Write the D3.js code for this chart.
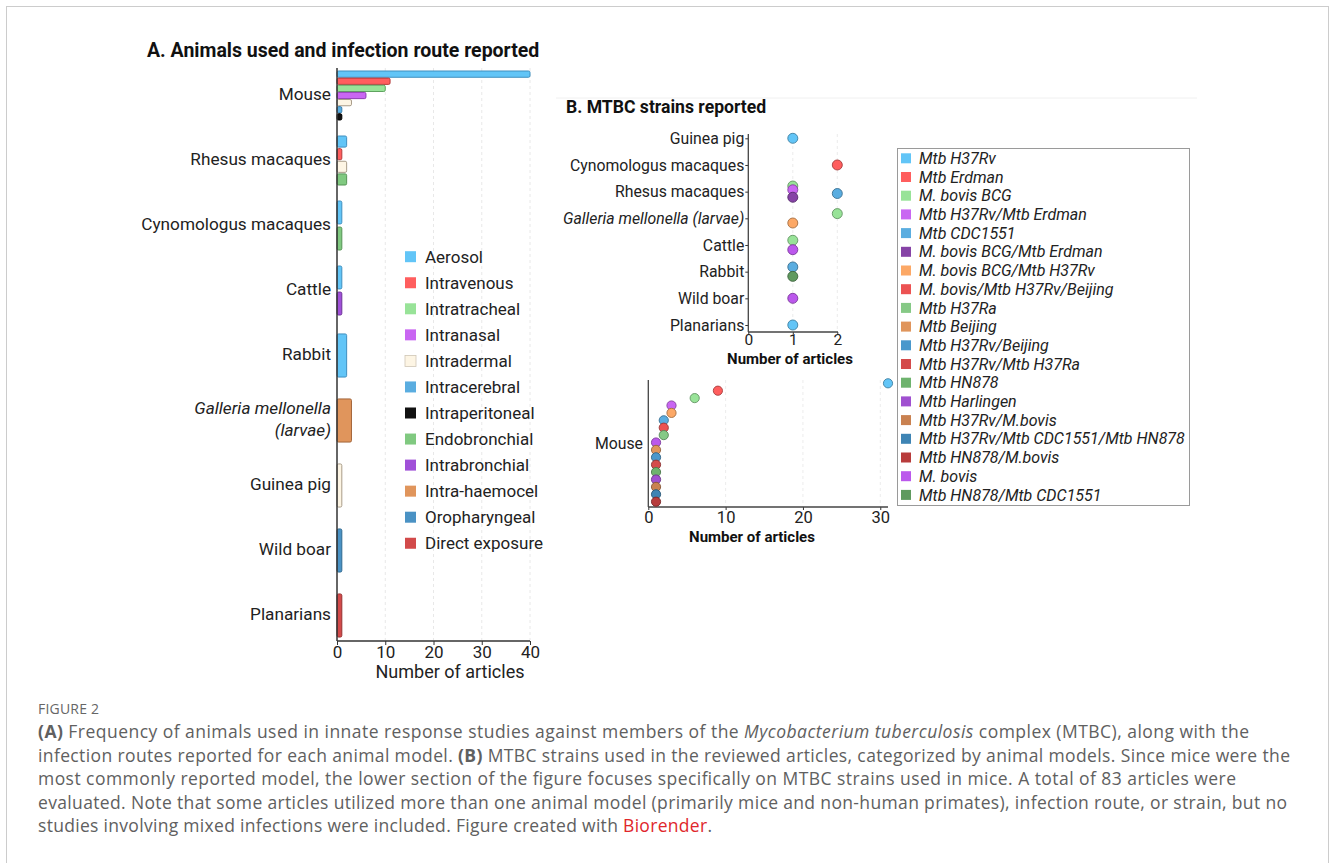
<!DOCTYPE html>
<html>
<head>
<meta charset="utf-8">
<script src="https://cdn.jsdelivr.net/npm/d3@7"></script>
<style>
  body { margin: 0; background: #fff; }
  svg { font-family: Roboto, "Noto Sans", sans-serif; }
  .axis .domain { display: none; }
  .axis line { stroke: #333; }
</style>
</head>
<body>
<svg id="fig" width="1330" height="863"></svg>
<script>
// ---- data: panel A (animals / infection routes) ----
var animalsA = ["Mouse", "Rhesus macaques", "Cynomologus macaques", "Cattle", "Rabbit",
  "Galleria mellonella (larvae)", "Guinea pig", "Wild boar", "Planarians"];

var routes = ["Aerosol", "Intravenous", "Intratracheal", "Intranasal", "Intradermal", "Intracerebral",
  "Intraperitoneal", "Endobronchial", "Intrabronchial", "Intra-haemocel", "Oropharyngeal", "Direct exposure"];

var routeColors = ["#62c5f7", "#ff5e5e", "#98e398", "#c966f2", "#fdf5e4", "#5aade0",
  "#111111", "#80c980", "#a050d8", "#e0955c", "#4a92c4", "#d24a4a"];

var routeStrokes = ["#3f8fbf", "#b33b3b", "#5fa35f", "#8e3fb2", "#a89c88", "#3a7eaa",
  "#000000", "#559455", "#6e3398", "#a3653a", "#2f6990", "#963030"];

var mouseRoutes = [["Aerosol", 40], ["Intravenous", 11], ["Intratracheal", 10], ["Intranasal", 6],
  ["Intradermal", 3], ["Intracerebral", 1], ["Intraperitoneal", 1]];
var rhesusRoutes = [["Aerosol", 2], ["Intravenous", 1], ["Intradermal", 2], ["Endobronchial", 2]];
var cynoRoutes = [["Aerosol", 1], ["Endobronchial", 1]];
var cattleRoutes = [["Aerosol", 1], ["Intrabronchial", 1]];
var rabbitRoutes = [["Aerosol", 2]];
var galleriaRoutes = [["Intra-haemocel", 3]];
var guineaRoutes = [["Intradermal", 1]];
var boarRoutes = [["Oropharyngeal", 1]];
var planarianRoutes = [["Direct exposure", 1]];

var xTicksA = [0, 10, 20, 30, 40];

// ---- data: panel B (MTBC strains) ----
var strains = ["Mtb H37Rv", "Mtb Erdman", "M. bovis BCG", "Mtb H37Rv/Mtb Erdman", "Mtb CDC1551",
  "M. bovis BCG/Mtb Erdman", "M. bovis BCG/Mtb H37Rv", "M. bovis/Mtb H37Rv/Beijing", "Mtb H37Ra",
  "Mtb Beijing", "Mtb H37Rv/Beijing", "Mtb H37Rv/Mtb H37Ra", "Mtb HN878", "Mtb Harlingen",
  "Mtb H37Rv/M.bovis", "Mtb H37Rv/Mtb CDC1551/Mtb HN878", "Mtb HN878/M.bovis", "M. bovis",
  "Mtb HN878/Mtb CDC1551"];

var strainColors = ["#62c5f7", "#ff5e5e", "#98e398", "#c966f2", "#5aade0",
  "#8643a6", "#fca866", "#ec5252", "#86c986", "#e0955c", "#4a98cc", "#d44b4b",
  "#6eb36e", "#a050d0", "#c98150", "#3e84b4", "#b83c3c", "#bb58ec", "#5f9a5f"];

var strainAnimals = ["Guinea pig", "Cynomologus macaques", "Rhesus macaques", "Galleria mellonella (larvae)",
  "Cattle", "Rabbit", "Wild boar", "Planarians"];

var guineaStrains = [["Mtb H37Rv", 1]];
var cynoStrains = [["Mtb Erdman", 2]];
var rhesusStrains = [["M. bovis BCG", 1], ["Mtb H37Rv/Mtb Erdman", 1], ["Mtb CDC1551", 2], ["M. bovis BCG/Mtb Erdman", 1]];
var galleriaStrains = [["M. bovis BCG", 2], ["M. bovis BCG/Mtb H37Rv", 1]];
var cattleStrains = [["M. bovis BCG", 1], ["M. bovis", 1]];
var rabbitStrains = [["Mtb CDC1551", 1], ["Mtb HN878/Mtb CDC1551", 1]];
var boarStrains = [["M. bovis", 1]];
var planarianStrains = [["Mtb H37Rv", 1]];

var mouseStrains = [["Mtb H37Rv", 31], ["Mtb Erdman", 9], ["M. bovis BCG", 6], ["Mtb H37Rv/Mtb Erdman", 3],
  ["M. bovis BCG/Mtb H37Rv", 3], ["Mtb CDC1551", 2], ["M. bovis/Mtb H37Rv/Beijing", 2], ["Mtb H37Ra", 2],
  ["M. bovis", 1], ["Mtb Beijing", 1], ["Mtb H37Rv/Beijing", 1], ["Mtb H37Rv/Mtb H37Ra", 1], ["Mtb HN878", 1],
  ["Mtb Harlingen", 1], ["Mtb H37Rv/M.bovis", 1], ["Mtb H37Rv/Mtb CDC1551/Mtb HN878", 1], ["Mtb HN878/M.bovis", 1]];

var xTicksB1 = [0, 1, 2];
var xTicksB2 = [0, 10, 20, 30];

var captionLines = [
  [["b", "(A)"], ["n", " Frequency of animals used in innate response studies against members of the "], ["i", "Mycobacterium tuberculosis"], ["n", " complex (MTBC), along with the"]],
  [["n", "infection routes reported for each animal model. "], ["b", "(B)"], ["n", " MTBC strains used in the reviewed articles, categorized by animal models. Since mice were the"]],
  [["n", "most commonly reported model, the lower section of the figure focuses specifically on MTBC strains used in mice. A total of 83 articles were"]],
  [["n", "evaluated. Note that some articles utilized more than one animal model (primarily mice and non-human primates), infection route, or strain, but no"]],
  [["n", "studies involving mixed infections were included. Figure created with "], ["r", "Biorender"], ["n", "."]]
];
var captionWidths = [1211, 1252, 1198, 1249, 674];

var routesByAnimal = [mouseRoutes, rhesusRoutes, cynoRoutes, cattleRoutes, rabbitRoutes,
  galleriaRoutes, guineaRoutes, boarRoutes, planarianRoutes];
var strainsByAnimal = [guineaStrains, cynoStrains, rhesusStrains, galleriaStrains,
  cattleStrains, rabbitStrains, boarStrains, planarianStrains];

var svg = d3.select("#fig");

// figure frame
svg.append("rect")
  .attr("x", 6.5).attr("y", 6.5).attr("width", 1322).attr("height", 920)
  .attr("fill", "#fff").attr("stroke", "#cccccc");

var routeColor = d3.scaleOrdinal().domain(routes).range(routeColors);
var routeStroke = d3.scaleOrdinal().domain(routes).range(routeStrokes);
var strainColor = d3.scaleOrdinal().domain(strains).range(strainColors);

// ================= PANEL A =================
var xA = d3.scaleLinear().domain([0, 40]).range([337, 530]);
var yA = d3.scaleBand().domain(animalsA).range([63, 648]);

svg.append("text")
  .attr("x", 147).attr("y", 57)
  .attr("font-size", 19.5).attr("font-weight", "bold").attr("fill", "#111")
  .text("A. Animals used and infection route reported");

// grid
svg.append("g").selectAll("line")
  .data(xTicksA.slice(1))
  .enter().append("line")
  .attr("x1", function (d) { return xA(d); })
  .attr("x2", function (d) { return xA(d); })
  .attr("y1", 68).attr("y2", 640)
  .attr("stroke", "#e8e8e8").attr("stroke-dasharray", "3,3");

// bars
animalsA.forEach(function (a, i) {
  var rows = routesByAnimal[i];
  var c = yA(a) + yA.bandwidth() / 2;
  var inner = d3.scaleBand()
    .domain(rows.map(function (r) { return r[0]; }))
    .range([c - 24.5, c + 24.5])
    .paddingInner(0.12);
  svg.append("g").selectAll("rect")
    .data(rows)
    .enter().append("rect")
    .attr("x", xA(0))
    .attr("y", function (d) { return inner(d[0]); })
    .attr("width", function (d) { return xA(d[1]) - xA(0); })
    .attr("height", inner.bandwidth())
    .attr("rx", 1.5)
    .attr("fill", function (d) { return routeColor(d[0]); })
    .attr("stroke", function (d) { return routeStroke(d[0]); })
    .attr("stroke-width", 1);
});

// axes A
var xAxisA = svg.append("g")
  .attr("class", "axis")
  .attr("transform", "translate(0,641)")
  .call(d3.axisBottom(xA).tickValues(xTicksA).tickSize(4).tickPadding(1));
xAxisA.selectAll("text").attr("font-size", 17).attr("fill", "#222").attr("font-family", "Roboto");

svg.append("line").attr("x1", 337).attr("x2", 530).attr("y1", 641).attr("y2", 641)
  .attr("stroke", "#333").attr("stroke-width", 1.5);
svg.append("line").attr("x1", 337).attr("x2", 337).attr("y1", 68).attr("y2", 641)
  .attr("stroke", "#333").attr("stroke-width", 1.5);

var yLabA = svg.append("g").selectAll("text")
  .data(animalsA)
  .enter().append("text")
  .attr("text-anchor", "end")
  .attr("font-size", 17.2).attr("fill", "#222")
  .attr("x", 331)
  .attr("y", function (d) { return yA(d) + yA.bandwidth() / 2 - 1.5; })
  .attr("dy", "0.35em");
yLabA.each(function (d) {
  var t = d3.select(this);
  if (d.indexOf("Galleria") === 0) {
    var y = +t.attr("y");
    t.attr("dy", null).attr("font-style", "italic");
    t.append("tspan").attr("x", 331).attr("y", y - 5).text("Galleria mellonella");
    t.append("tspan").attr("x", 331).attr("y", y + 17).text("(larvae)");
  } else {
    t.text(d);
  }
});

svg.append("text")
  .attr("x", 450).attr("y", 678).attr("text-anchor", "middle")
  .attr("font-size", 18).attr("fill", "#222")
  .text("Number of articles");

// legend A
var legA = svg.append("g").selectAll("g")
  .data(routes)
  .enter().append("g")
  .attr("transform", function (d, i) { return "translate(405," + (256.7 + i * 26.05) + ")"; });
legA.append("rect")
  .attr("x", 0).attr("y", -5.5).attr("width", 11).attr("height", 11)
  .attr("fill", function (d) { return routeColor(d); })
  .attr("stroke", function (d) { return d === "Intradermal" ? "#cfc6b6" : "none"; })
  .attr("stroke-width", 0.8);
legA.append("text")
  .attr("x", 20).attr("dy", "0.35em")
  .attr("font-size", 17).attr("fill", "#222")
  .text(function (d) { return d; });

// ================= PANEL B =================
svg.append("line").attr("x1", 556).attr("x2", 1197).attr("y1", 98).attr("y2", 98)
  .attr("stroke", "#f0f0f0");

svg.append("text")
  .attr("x", 566).attr("y", 113)
  .attr("font-size", 17.6).attr("font-weight", "bold").attr("fill", "#111")
  .text("B. MTBC strains reported");

// --- upper dot plot ---
var xB1 = d3.scaleLinear().domain([0, 2]).range([748.3, 837.3]);
var yB1 = d3.scalePoint().domain(strainAnimals).range([138.3, 325]);

svg.append("g").selectAll("line")
  .data(xTicksB1.slice(1))
  .enter().append("line")
  .attr("x1", function (d) { return xB1(d); })
  .attr("x2", function (d) { return xB1(d); })
  .attr("y1", 134).attr("y2", 332)
  .attr("stroke", "#ececec").attr("stroke-dasharray", "3,3");

var yAxisB1 = svg.append("g")
  .attr("class", "axis")
  .attr("transform", "translate(748.3,0)")
  .call(d3.axisLeft(yB1).tickSize(3).tickPadding(1));
yAxisB1.selectAll("text").attr("font-size", 15.8).attr("fill", "#222").attr("font-family", "Roboto")
  .attr("font-style", function (d) { return d.indexOf("Galleria") === 0 ? "italic" : null; });

var xAxisB1 = svg.append("g")
  .attr("class", "axis")
  .attr("transform", "translate(0,332)")
  .call(d3.axisBottom(xB1).tickValues(xTicksB1).tickFormat(d3.format("d")).tickSize(2).tickPadding(0));
xAxisB1.selectAll("text").attr("font-size", 15.5).attr("fill", "#222").attr("font-family", "Roboto");

svg.append("line").attr("x1", 748.3).attr("x2", 748.3).attr("y1", 134).attr("y2", 332)
  .attr("stroke", "#444").attr("stroke-width", 1.3);
svg.append("line").attr("x1", 748.3).attr("x2", 838).attr("y1", 332).attr("y2", 332)
  .attr("stroke", "#444").attr("stroke-width", 1.3);

strainAnimals.forEach(function (a, i) {
  var rows = strainsByAnimal[i];
  var dodge = d3.scalePoint()
    .domain(rows.map(function (r) { return r[0]; }))
    .range(rows.length > 2 ? [-5.6, 5.6] : [-4.7, 4.7]);
  svg.append("g").selectAll("circle")
    .data(rows)
    .enter().append("circle")
    .attr("cx", function (d) { return xB1(d[1]); })
    .attr("cy", function (d) { return yB1(a) + (rows.length > 1 ? dodge(d[0]) : 0); })
    .attr("r", 5)
    .attr("fill", function (d) { return strainColor(d[0]); })
    .attr("stroke", function (d) { return d3.color(strainColor(d[0])).darker(1.2); })
    .attr("stroke-width", 0.9);
});

svg.append("text")
  .attr("x", 790).attr("y", 363.5).attr("text-anchor", "middle")
  .attr("font-size", 15).attr("font-weight", "bold").attr("fill", "#111")
  .text("Number of articles");

// --- mouse dot plot ---
var xB2 = d3.scaleLinear().domain([0, 31]).range([648.3, 888]);
var yB2 = d3.scalePoint().domain(mouseStrains.map(function (r) { return r[0]; })).range([383.3, 501.7]);

svg.append("g").selectAll("line")
  .data(xTicksB2.slice(1))
  .enter().append("line")
  .attr("x1", function (d) { return xB2(d); })
  .attr("x2", function (d) { return xB2(d); })
  .attr("y1", 380).attr("y2", 507)
  .attr("stroke", "#ececec").attr("stroke-dasharray", "3,3");

var xAxisB2 = svg.append("g")
  .attr("class", "axis")
  .attr("transform", "translate(0,507)")
  .call(d3.axisBottom(xB2).tickValues(xTicksB2).tickSize(3).tickPadding(1));
xAxisB2.selectAll("text").attr("font-size", 16.5).attr("fill", "#222").attr("font-family", "Roboto");

svg.append("line").attr("x1", 648.3).attr("x2", 648.3).attr("y1", 380).attr("y2", 507)
  .attr("stroke", "#444").attr("stroke-width", 1.3);
svg.append("line").attr("x1", 648.3).attr("x2", 888).attr("y1", 507).attr("y2", 507)
  .attr("stroke", "#444").attr("stroke-width", 1.3);

svg.append("text")
  .attr("x", 643).attr("y", 443.3).attr("dy", "0.35em").attr("text-anchor", "end")
  .attr("font-size", 15.8).attr("fill", "#222")
  .text("Mouse");

svg.append("g").selectAll("circle")
  .data(mouseStrains)
  .enter().append("circle")
  .attr("cx", function (d) { return xB2(d[1]); })
  .attr("cy", function (d) { return yB2(d[0]); })
  .attr("r", 4.6)
  .attr("fill", function (d) { return strainColor(d[0]); })
  .attr("stroke", function (d) { return d3.color(strainColor(d[0])).darker(1.2); })
  .attr("stroke-width", 0.9);

svg.append("text")
  .attr("x", 752).attr("y", 542).attr("text-anchor", "middle")
  .attr("font-size", 15).attr("font-weight", "bold").attr("fill", "#111")
  .text("Number of articles");

// legend B
svg.append("rect")
  .attr("x", 897.5).attr("y", 148.5).attr("width", 292).attr("height", 357)
  .attr("fill", "#fff").attr("stroke", "#9a9a9a");
var legB = svg.append("g").selectAll("g")
  .data(strains)
  .enter().append("g")
  .attr("transform", function (d, i) { return "translate(901," + (158.3 + i * 18.7) + ")"; });
legB.append("rect")
  .attr("x", 0).attr("y", -5).attr("width", 10).attr("height", 10)
  .attr("fill", function (d) { return strainColor(d); });
legB.append("text")
  .attr("x", 18).attr("dy", "0.35em")
  .attr("font-size", 16).attr("font-style", "italic").attr("fill", "#222")
  .text(function (d) { return d; });

// ================= CAPTION =================
svg.append("text")
  .attr("x", 38).attr("y", 714)
  .attr("font-family", "'Open Sans', sans-serif")
  .attr("font-size", 14).attr("fill", "#666").attr("letter-spacing", 0.2)
  .text("FIGURE 2");

captionLines.forEach(function (line, i) {
  var t = svg.append("text")
    .attr("x", 38).attr("y", 738 + i * 23.5)
    .attr("font-family", "'Open Sans', sans-serif")
    .attr("font-size", 17.5).attr("fill", "#606060")
    .attr("textLength", captionWidths[i])
    .attr("lengthAdjust", "spacing");
  line.forEach(function (p) {
    var s = t.append("tspan").text(p[1]);
    if (p[0] === "b") s.attr("font-weight", "bold");
    if (p[0] === "i") s.attr("font-style", "italic");
    if (p[0] === "r") s.attr("fill", "#e0262b");
  });
});
</script>
</body>
</html>
